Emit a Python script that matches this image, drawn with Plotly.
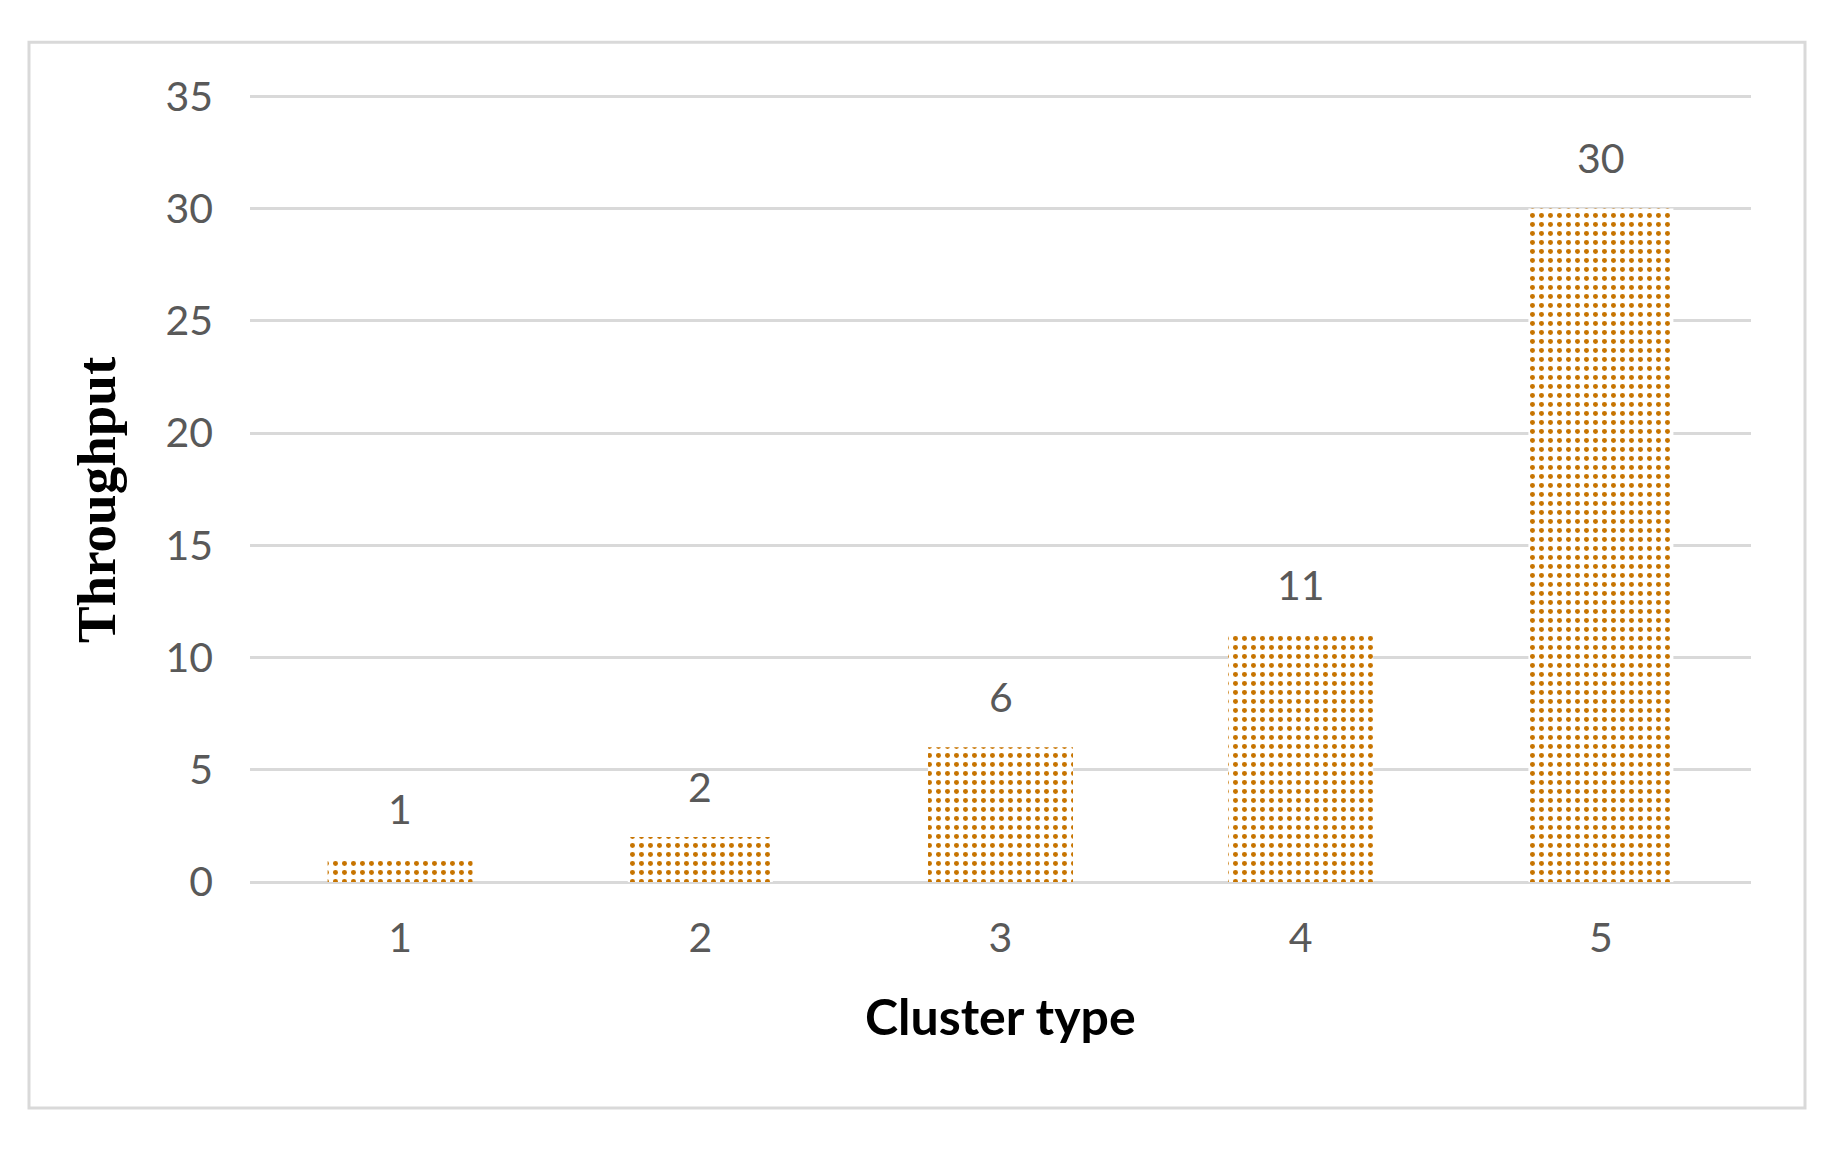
import plotly.graph_objects as go

categories = ["1", "2", "3", "4", "5"]
throughput = [1, 2, 6, 11, 30]
y_ticks = [0, 5, 10, 15, 20, 25, 30, 35]

O = 8  # page body margin
W, H = 1840 - O, 1153 - O
# plot area in screen pixels
PX0, PX1, PY0, PY1 = 250, 1751, 96, 882
YMAX = 35.1
ppu = (PY1 - PY0) / 35.0
top = PY1 - YMAX * ppu
L = PX0 - O
T = top - O
R = W - (PX1 - O)
B = H - (PY1 - O)
pw, ph = PX1 - PX0, PY1 - top

def px_x(x):
    return (x - PX0) / pw

def px_y(y):
    return (PY1 - y) / ph

bar_color = "#C77400"
grid_color = "#D9D9D9"
tick_color = "#595959"
sans = "Lato, 'Open Sans', sans-serif"

fig = go.Figure()
fig.add_trace(go.Bar(
    x=categories,
    y=throughput,
    marker=dict(
        color="white",
        line=dict(width=0),
        pattern=dict(shape=".", fgcolor=bar_color, bgcolor="white",
                     size=9, solidity=0.24, fillmode="replace"),
    ),
    hoverinfo="x+y",
))

for i, v in enumerate(throughput):
    fig.add_annotation(x=i, y=v, text=str(v), showarrow=False,
                       yanchor="middle", yshift=51,
                       font=dict(family=sans, size=41, color=tick_color))

fig.add_annotation(xref="paper", yref="paper", x=0.5, y=px_y(1016),
                   text="<b>Cluster type</b>", showarrow=False,
                   xanchor="center", yanchor="middle",
                   font=dict(family=sans, size=50, color="black"))
fig.add_annotation(xref="paper", yref="paper", x=px_x(96), y=px_y(500),
                   text="<b>Throughput</b>", showarrow=False, textangle=-90,
                   xanchor="center", yanchor="middle",
                   font=dict(family="'Liberation Serif', 'Times New Roman', serif",
                             size=55, color="black"))

fig.add_shape(type="rect", xref="paper", yref="paper",
              x0=px_x(29), x1=px_x(1805), y0=px_y(1108), y1=px_y(42),
              line=dict(color=grid_color, width=3), layer="below")

fig.update_layout(
    width=W, height=H,
    margin=dict(l=L, r=R, t=T, b=B, pad=0),
    paper_bgcolor="white", plot_bgcolor="white",
    showlegend=False,
    bargap=0.517,
    xaxis=dict(type="category", showgrid=False, zeroline=False,
               showline=False, ticks="", ticklabelstandoff=28,
               tickfont=dict(family=sans, size=41, color=tick_color)),
    yaxis=dict(range=[0, YMAX], tickvals=y_ticks, showgrid=True,
               gridcolor=grid_color, gridwidth=3, zeroline=True,
               zerolinecolor=grid_color, zerolinewidth=3, showline=False,
               ticks="", ticklabelstandoff=36,
               tickfont=dict(family=sans, size=41, color=tick_color)),
)

fig.write_html("out.html")
